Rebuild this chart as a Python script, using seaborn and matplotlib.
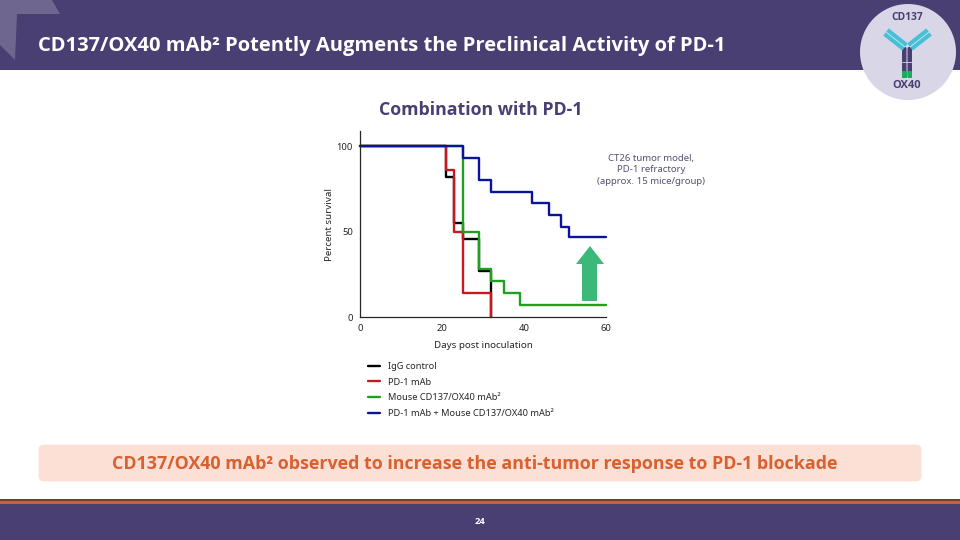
"""
Redraw the CD137/OX40 mAb2 survival slide.

Shows:
  1. Slide header, footer and antibody badge
  2. Survival curves for the four treatment groups
  3. Summary banner

Usage:
    python plot.py
"""

from __future__ import annotations

import numpy as np
import pandas as pd
import matplotlib.pyplot as plt
from matplotlib.patches import Circle, FancyBboxPatch, Polygon, Rectangle
import seaborn as sns

SERIES = ['IgG control', 'PD-1 mAb', 'Mouse CD137/OX40 mAb²', 'PD-1 mAb + Mouse CD137/OX40 mAb²']
COLORS = ['#000000', '#C8171E', '#1FA01F', '#0A149A']

IGG_DAYS = [0, 21, 23, 25, 29, 32, 32]
IGG_SURVIVAL = [100, 82, 55, 45.5, 27, 20, 0]
PD1_DAYS = [0, 21, 23, 25, 32]
PD1_SURVIVAL = [100, 86, 50, 14, 0]
MOUSE_DAYS = [0, 25, 29, 32, 35, 39, 60]
MOUSE_SURVIVAL = [100, 50, 28, 21, 14, 7, 7]
COMBO_DAYS = [0, 25, 29, 32, 42, 46, 49, 51, 60]
COMBO_SURVIVAL = [100, 93, 80, 73, 67, 60, 53, 47, 47]

X_TICKS = [0, 20, 40, 60]
Y_TICKS = [0, 50, 100]

TITLE = 'CD137/OX40 mAb² Potently Augments the Preclinical Activity of PD-1'
SUBTITLE = 'Combination with PD-1'
NOTE = 'CT26 tumor model,\nPD-1 refractory\n(approx. 15 mice/group)'
BANNER = 'CD137/OX40 mAb² observed to increase the anti-tumor response to PD-1 blockade'

PURPLE = '#4A3F73'
ORANGE = '#D9602F'


def build_frame():
    """Long table of the curves for seaborn."""
    frames = []
    groups = [(IGG_DAYS, IGG_SURVIVAL), (PD1_DAYS, PD1_SURVIVAL),
              (MOUSE_DAYS, MOUSE_SURVIVAL), (COMBO_DAYS, COMBO_SURVIVAL)]
    for name, (days, survival) in zip(SERIES, groups):
        frames.append(pd.DataFrame({'day': days, 'survival': survival, 'group': name}))
    return pd.concat(frames, ignore_index=True)


def draw_slide(bg):
    """Header, footer, banner and badge, in pixel coordinates."""
    bg.set_xlim(0, 960)
    bg.set_ylim(540, 0)
    bg.axis('off')

    bg.add_patch(Rectangle((0, 0), 960, 70, color=PURPLE, lw=0))
    # Lighter fold in the corner
    bg.add_patch(Polygon([(0, 0), (52, 0), (60, 14), (17, 14), (15, 60), (0, 45)], color='#6F6690', lw=0))
    bg.text(38, 46, TITLE, color='white', fontsize=14.5, fontweight='bold', va='center', ha='left',
            family='Open Sans')

    # Footer
    bg.add_patch(Rectangle((0, 499), 960, 1.5, color='#7A3A30', lw=0))
    bg.add_patch(Rectangle((0, 500.5), 960, 3.5, color='#C8603F', lw=0))
    bg.add_patch(Rectangle((0, 504), 960, 36, color=PURPLE, lw=0))
    bg.text(480, 522, '24', color='white', fontsize=6.8, fontweight='bold', ha='center', va='center',
            family='Open Sans')

    # Banner
    bg.add_patch(FancyBboxPatch((40, 446), 880, 34, boxstyle='round,pad=0,rounding_size=4',
                                mutation_aspect=1, facecolor='#FCDFD5', edgecolor='#FCDFD5', lw=2))
    bg.text(475, 464, BANNER, color=ORANGE, fontsize=12.85, fontweight='bold', ha='center', va='center',
            family='Open Sans')

    bg.text(481, 110, SUBTITLE, color=PURPLE, fontsize=12.8, fontweight='bold', ha='center', va='center',
            family='Open Sans')
    bg.text(651, 170, NOTE, color='#555070', fontsize=6.9, ha='center', va='center', linespacing=1.35)

    # Green arrow beside the curves
    bg.add_patch(Polygon([(590, 246), (604, 264), (597, 264), (597, 301),
                          (582, 301), (582, 264), (576, 264)], color='#3CB878', lw=0))


def draw_badge(bg):
    """Antibody badge in the top right corner."""
    bg.add_patch(Circle((908, 52), 48, color='#D9D6E8', lw=0))
    bg.text(907, 18, 'CD137', color=PURPLE, fontsize=7.4, fontweight='bold', ha='center', va='center',
            family='Open Sans')
    bg.text(907, 85, 'OX40', color=PURPLE, fontsize=8, fontweight='bold', ha='center', va='center',
            family='Open Sans')
    # Arms
    for x_outer, x_inner in [(886, 905), (929, 910)]:
        bg.plot([x_outer, x_inner], [32, 47], color='#47BFD6', lw=6.5, solid_capstyle='butt')
        bg.plot([x_outer, x_inner], [32, 47], color='#BDE6EE', lw=0.7, solid_capstyle='butt')
    # Stem
    for left in [902, 907.5]:
        bg.add_patch(FancyBboxPatch((left, 47), 4.5, 31, boxstyle='round,pad=0,rounding_size=1.5',
                                    color=PURPLE, lw=0))
        bg.add_patch(Rectangle((left, 71), 4.5, 7, color='#1FA860', lw=0))
    bg.plot([902, 912], [62, 62], color='#D9D6E8', lw=0.6)


def plot_survival(ax, df):
    """Step curves with the legend below the axes."""
    sns.lineplot(data=df, x='day', y='survival', hue='group', hue_order=SERIES,
                 palette=COLORS, drawstyle='steps-post', estimator=None, sort=False,
                 linewidth=1.7, clip_on=False, ax=ax)
    ax.set_xlim(0, 60)
    ax.set_ylim(0, 109)
    ax.set_xticks(X_TICKS)
    ax.set_yticks(Y_TICKS)
    ax.tick_params(labelsize=6.8, length=3.5, width=0.9, pad=1.5, colors='#222222')
    ax.set_xlabel('Days post inoculation', fontsize=7, labelpad=5.5)
    ax.set_ylabel('Percent survival', fontsize=7, labelpad=2)
    for side in ['left', 'bottom']:
        ax.spines[side].set_linewidth(0.9)
    sns.despine(ax=ax)

    ax.legend(loc='upper left', bbox_to_anchor=(0.033, -0.24), frameon=False, fontsize=6.65,
              handlelength=1.3, handletextpad=0.85, labelspacing=0.72, borderpad=0, borderaxespad=0)


def main():
    sns.set_style('white')
    plt.rcParams['font.family'] = ['Noto Sans', 'DejaVu Sans']

    fig = plt.figure(figsize=(9.6, 5.4), dpi=100)
    bg = fig.add_axes([0, 0, 1, 1])
    draw_slide(bg)
    draw_badge(bg)

    # 360..606 px wide, 129..317 px tall
    ax = fig.add_axes([360 / 960, 1 - 317.3 / 540, 246 / 960, 186.4 / 540])
    ax.patch.set_alpha(0)
    plot_survival(ax, build_frame())

    plt.savefig('out.png', dpi=100)
    plt.close()


if __name__ == "__main__":
    main()
